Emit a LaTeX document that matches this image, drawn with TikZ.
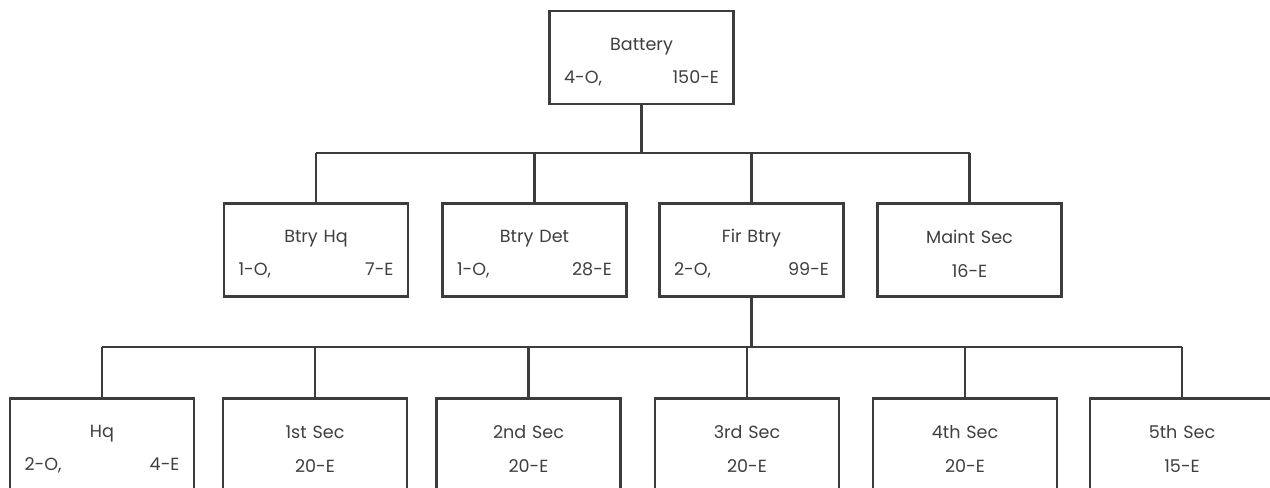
\documentclass[tikz,border=0pt]{standalone}
\usepackage{fontspec}
\setmainfont{Poppins}[WordSpace=1.7]
\usepackage{tikz}
\usetikzlibrary{positioning}
\definecolor{inkgray}{HTML}{3C3C3C}
\definecolor{txtgray}{HTML}{3F3F3F}

\begin{document}
\begin{tikzpicture}[x=0.02cm,y=-0.02cm,
    unit/.style={draw=inkgray, line width=1.5pt, minimum width=3.68cm, minimum height=1.86cm,
      inner sep=0pt, text width=3.1cm, align=center, text=txtgray, text height=12pt,
      font=\fontsize{10}{19}\selectfont},
    link/.style={draw=inkgray, line width=1.5pt}]
				\useasboundingbox (0,0) rectangle (1270,487);
				
				\node[unit] (bat) at (641.5,57.5) {Battery\\4-O,\hfill 150-E};
				
				\node[unit] (hq) at (316,250) {Btry Hq\\1-O,\hfill 7-E};
				\node[unit] (det) at (534.5,250) {Btry Det\\1-O,\hfill 28-E};
				\node[unit] (fir) at (751.5,250) {Fir Btry\\2-O,\hfill 99-E};
				\node[unit] (mnt) at (969.5,250) {Maint Sec\\16-E};
				
				\node[unit] (s0) at (102,445) {Hq\\2-O,\hfill 4-E};
				\node[unit] (s1) at (315,445) {1st Sec\\20-E};
				\node[unit] (s2) at (528.5,445) {2nd Sec\\20-E};
				\node[unit] (s3) at (747,445) {3rd Sec\\20-E};
				\node[unit] (s4) at (965,445) {4th Sec\\20-E};
				\node[unit] (s5) at (1182,445) {5th Sec\\15-E};
				
				\coordinate (bus1) at (645,153);
				\coordinate (bus2) at (752,347);
				
				\draw[link] (bat.south) -- (bat.south |- bus1);
				\draw[link] (hq.north |- bus1) -- (mnt.north |- bus1);
				\foreach \n in {hq,det,fir,mnt}
					\draw[link] (\n.north) -- (\n.north |- bus1);
				
				\draw[link] (fir.south) -- (fir.south |- bus2);
				\draw[link] (s0.north |- bus2) -- (s5.north |- bus2);
				\foreach \n in {s0,s1,s2,s3,s4,s5}
					\draw[link] (\n.north) -- (\n.north |- bus2);
			\end{tikzpicture}
\end{document}
